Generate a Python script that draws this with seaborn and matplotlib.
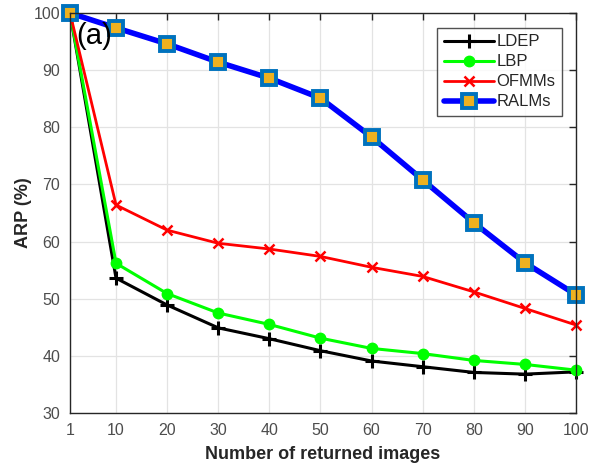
import matplotlib
matplotlib.use("Agg")
import matplotlib.pyplot as plt
import seaborn as sns
import pandas as pd

returned = [1, 10, 20, 30, 40, 50, 60, 70, 80, 90, 100]
ldep = [100, 53.6, 48.9, 44.9, 43.0, 40.9, 39.1, 38.1, 37.1, 36.8, 37.2]
lbp = [100, 56.2, 50.9, 47.5, 45.5, 43.1, 41.3, 40.4, 39.2, 38.5, 37.5]
ofmms = [100, 66.4, 62.0, 59.7, 58.7, 57.4, 55.5, 53.9, 51.2, 48.3, 45.4]
ralms = [100, 97.4, 94.6, 91.4, 88.6, 85.1, 78.3, 70.8, 63.3, 56.3, 50.7]

methods = ["LDEP", "LBP", "OFMMs", "RALMs"]
series = [ldep, lbp, ofmms, ralms]
x_ticks = [1, 10, 20, 30, 40, 50, 60, 70, 80, 90, 100]
y_ticks = [30, 40, 50, 60, 70, 80, 90, 100]

df = pd.DataFrame({
    "n": returned * len(methods),
    "arp": [v for s in series for v in s],
    "method": [m for m in methods for _ in returned],
})

sns.set_style("white")
plt.rcParams["font.family"] = ["Liberation Sans", "DejaVu Sans"]

fig = plt.figure(figsize=(5.97, 4.69), dpi=100)
ax = fig.add_axes([0.1173, 0.1194, 0.8475, 0.8529])

styles = {
    "LDEP": dict(color="black", marker="+", markersize=10, markeredgewidth=2.2,
                 markeredgecolor="black", linewidth=2.2),
    "LBP": dict(color="#00ff00", marker="o", markersize=7.5, markeredgewidth=1.0,
                markeredgecolor="#00ff00", markerfacecolor="#00ff00", linewidth=2.2),
    "OFMMs": dict(color="#ff0000", marker="x", markersize=7, markeredgewidth=1.8,
                  markeredgecolor="#ff0000", linewidth=2.0),
    "RALMs": dict(color="#0000ff", marker="s", markersize=10, markeredgewidth=2.8,
                  markerfacecolor="#EDB120", markeredgecolor="#0072BD", linewidth=4.0),
}

for m in methods:
    kw = dict(styles[m])
    color = kw.pop("color")
    sns.lineplot(data=df[df["method"] == m], x="n", y="arp", ax=ax, color=color,
                 label=m, **kw)

ax.set_xlim(1, 100)
ax.set_ylim(30, 100)
ax.set_xticks(x_ticks)
ax.set_yticks(y_ticks)
ax.grid(True, color="#e3e3e3", linewidth=0.9)
ax.tick_params(axis="both", direction="in", length=5, width=1, colors="#262626",
               labelsize=11.5, labelcolor="#4d4d4d", top=True, right=True, pad=7)
for sp in ax.spines.values():
    sp.set_color("#262626")
    sp.set_linewidth(1.0)
ax.set_axisbelow(True)
for line in ax.lines:
    line.set_clip_on(False)

ax.set_xlabel("Number of returned images", fontsize=13, fontweight="bold",
              color="#262626", labelpad=6)
ax.set_ylabel("ARP (%)", fontsize=13, fontweight="bold", color="#262626", labelpad=1)

ax.text(0.013, 0.978, "(a)", transform=ax.transAxes, fontsize=21, va="top", ha="left",
        color="black")

leg = ax.legend(loc="upper right", bbox_to_anchor=(0.972, 0.963), frameon=True,
                fancybox=False, fontsize=12, handlelength=3.0, borderpad=0.4,
                labelspacing=0.3, handletextpad=0.15, borderaxespad=0)
leg.get_frame().set_edgecolor("#262626")
leg.get_frame().set_linewidth(1.0)

fig.savefig("out.png", dpi=100)
